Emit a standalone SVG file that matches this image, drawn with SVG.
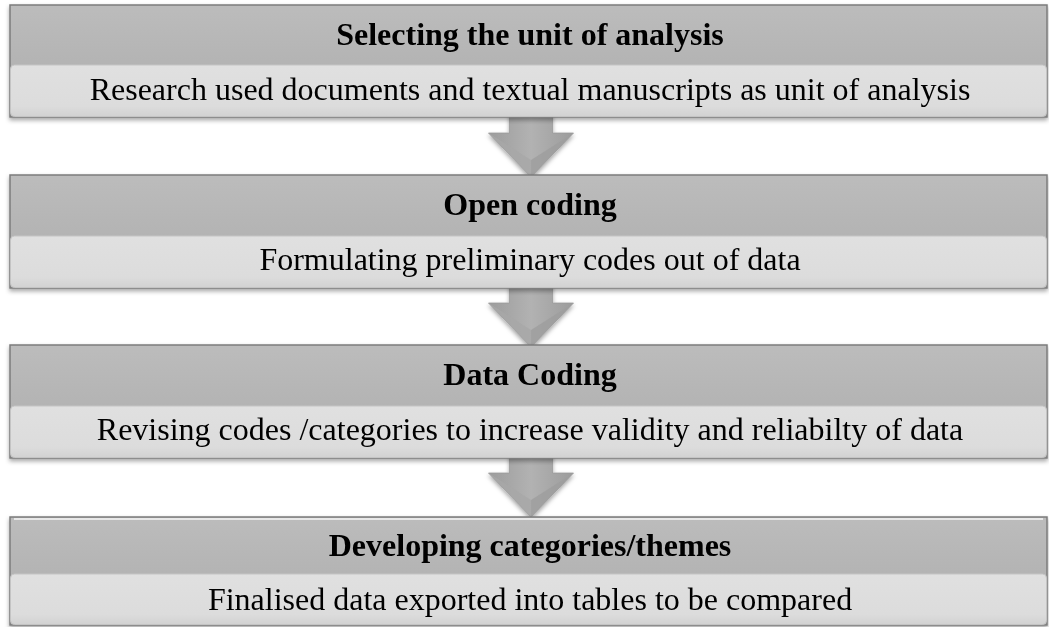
<svg xmlns="http://www.w3.org/2000/svg" width="1049" height="627" viewBox="0 0 1049 627">
<style>
.hdr{font-family:"Liberation Serif","Times New Roman",serif;font-weight:bold;font-size:32px;fill:#000;text-anchor:middle}
.body{font-family:"Liberation Serif","Times New Roman",serif;font-size:32px;fill:#000;text-anchor:middle}
.frame{fill:url(#hdrGrad);stroke:#7c7c7c;stroke-width:1.5}
.band{fill:url(#bandGrad);stroke:#c4c4c4;stroke-width:1}
.arrow{fill:url(#arrGrad);stroke:#9a9a9a;stroke-width:0.8}
</style>
<defs>
<linearGradient id="hdrGrad" x1="0" y1="0" x2="0" y2="1">
<stop offset="0" stop-color="#bcbcbc"/>
<stop offset="0.5" stop-color="#b4b4b4"/>
<stop offset="1" stop-color="#adadad"/>
</linearGradient>
<linearGradient id="bandGrad" x1="0" y1="0" x2="0" y2="1">
<stop offset="0" stop-color="#e0e0e0"/>
<stop offset="0.8" stop-color="#dcdcdc"/>
<stop offset="1" stop-color="#d2d2d2"/>
</linearGradient>
<linearGradient id="arrGrad" x1="0" y1="0" x2="1" y2="0">
<stop offset="0" stop-color="#9c9c9c"/>
<stop offset="0.5" stop-color="#b2b2b2"/>
<stop offset="1" stop-color="#9c9c9c"/>
</linearGradient>
<filter id="shadow" x="-5%" y="-20%" width="110%" height="150%">
<feDropShadow dx="0" dy="2.5" stdDeviation="2" flood-color="#000" flood-opacity="0.35"/>
</filter>
<symbol id="arrowShape" overflow="visible">
<polygon class="arrow" points="-21.5,0 21.5,0 21.5,23 42.5,23 0,67 -42.5,23 -21.5,23"/>
<polygon points="-42.5,23 0,67 0,50" fill="#a8a8a8" opacity="0.8"/>
<polygon points="42.5,23 0,67 0,50" fill="#9e9e9e" opacity="0.8"/>
</symbol>
</defs>
<rect width="1049" height="627" fill="#ffffff"/>

<g id="connectors">
<use href="#arrowShape" x="531" y="110" filter="url(#shadow)"/>
<use href="#arrowShape" x="531" y="280" filter="url(#shadow)"/>
<use href="#arrowShape" x="531" y="450" filter="url(#shadow)"/>
</g>

<g id="node1" filter="url(#shadow)">
<rect class="frame" x="10" y="5" width="1037" height="112"/>
<rect class="band" x="10.5" y="65" width="1036" height="51.5" rx="4"/>
<text class="hdr" x="530" y="45">Selecting the unit of analysis</text>
<text class="body" x="530" y="100">Research used documents and textual manuscripts as unit of analysis</text>
</g>

<g id="node2" filter="url(#shadow)">
<rect class="frame" x="10" y="175" width="1037" height="113"/>
<rect class="band" x="10.5" y="236" width="1036" height="51.5" rx="4"/>
<text class="hdr" x="530" y="215">Open coding</text>
<text class="body" x="530" y="270">Formulating preliminary codes out of data</text>
</g>

<g id="node3" filter="url(#shadow)">
<rect class="frame" x="10" y="345" width="1037" height="113"/>
<rect class="band" x="10.5" y="406" width="1036" height="51.5" rx="4"/>
<text class="hdr" x="530" y="385">Data Coding</text>
<text class="body" x="530" y="440">Revising codes /categories to increase validity and reliabilty of data</text>
</g>

<g id="node4" filter="url(#shadow)">
<rect class="frame" x="10" y="517" width="1037" height="108"/>
<line x1="14" y1="519" x2="1043" y2="519" stroke="#e8e8e8" stroke-width="2"/>
<rect class="band" x="10.5" y="574" width="1036" height="50.5" rx="4"/>
<text class="hdr" x="530" y="556">Developing categories/themes</text>
<text class="body" x="530" y="610">Finalised data exported into tables to be compared</text>
</g>
</svg>
